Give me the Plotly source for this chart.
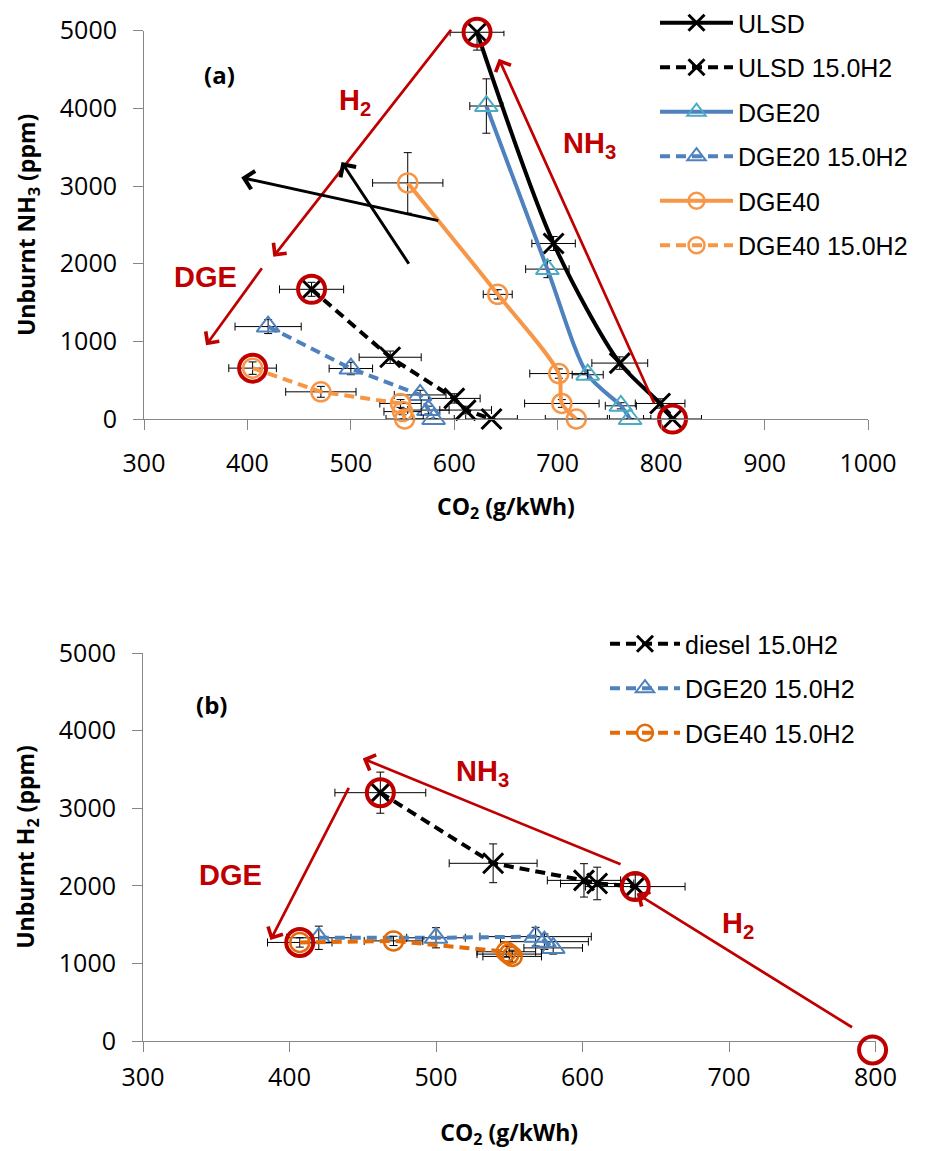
import plotly.graph_objects as go

# ---------------- data: panel (a) ----------------
ulsd_x = [622, 696, 760, 799, 811]
ulsd_y = [4980, 2260, 720, 200, 0]
ulsd_ex = [26, 21, 27, 24, 28]
ulsd_ey = [230, 90, 80, 60, 0]

ulsd_h2_x = [462, 538, 600, 611, 636]
ulsd_h2_y = [1670, 795, 265, 115, 0]
ulsd_h2_ex = [31, 30, 25, 25, 25]
ulsd_h2_ey = [90, 80, 60, 50, 0]

dge20_x = [631, 690, 729, 761, 770]
dge20_y = [4030, 1930, 570, 170, 0]
dge20_ex = [16, 21, 15, 15, 20]
dge20_ey = [350, 110, 60, 40, 0]

dge20_h2_x = [420, 500, 567, 575, 580]
dge20_h2_y = [1190, 650, 310, 115, 0]
dge20_h2_ex = [32, 21, 25, 20, 20]
dge20_h2_ey = [90, 80, 60, 50, 0]

dge40_x = [555, 642, 701, 704, 718]
dge40_y = [3040, 1605, 585, 200, 0]
dge40_ex = [34, 14, 28, 36, 30]
dge40_ey = [390, 60, 60, 50, 0]

dge40_h2_x = [405, 471, 548, 550, 552]
dge40_h2_y = [655, 350, 200, 95, 0]
dge40_h2_ex = [23, 34, 20, 18, 18]
dge40_h2_ey = [80, 70, 50, 40, 0]

ring_a_x = [622, 462, 405, 811]
ring_a_y = [4980, 1670, 655, 0]

# ---------------- data: panel (b) ----------------
diesel_b_x = [462, 539, 601, 610, 636]
diesel_b_y = [3200, 2290, 2070, 2030, 1990]
diesel_b_ex = [31, 30, 25, 25, 34]
diesel_b_ey = [265, 250, 215, 210, 150]

dge20_b_x = [420, 500, 568, 574, 580]
dge20_b_y = [1330, 1330, 1345, 1280, 1200]
dge20_b_ex = [22, 20, 38, 30, 20]
dge20_b_ey = [150, 130, 120, 100, 80]

dge40_b_x = [407, 471, 548, 550, 552]
dge40_b_y = [1270, 1290, 1150, 1120, 1090]
dge40_b_ex = [22, 20, 20, 22, 20]
dge40_b_ey = [60, 60, 70, 100, 80]

ring_b_x = [462, 407, 636, 798]
ring_b_y = [3200, 1270, 1990, -115]

# arrows: (tail_x, tail_y, head_x, head_y, colour)
arrows_a = [
    (598, 5030, 425, 2090, "#C00000"),
    (415, 1960, 360, 950, "#C00000"),
    (794, 180, 643, 4640, "#C00000"),
    (586, 2550, 394, 3110, "black"),
    (557, 1980, 491, 3310, "black"),
]
arrows_b = [
    (441, 3280, 387, 1300, "#C00000"),
    (627, 2270, 450, 3640, "#C00000"),
    (785, 165, 637, 1900, "#C00000"),
]
# labels: (x, y, text, colour)
labels_a = [
    (373, 4440, "<b>(a)</b>", "black"),
    (504, 4084, "<b>H<sub>2</sub></b>", "#C00000"),
    (731, 3526, "<b>NH<sub>3</sub></b>", "#C00000"),
    (359, 1828, "<b>DGE</b>", "#C00000"),
]
labels_b = [
    (347, 4330, "<b>(b)</b>", "black"),
    (532, 3450, "<b>NH<sub>3</sub></b>", "#C00000"),
    (360, 2139, "<b>DGE</b>", "#C00000"),
    (706, 1495, "<b>H<sub>2</sub></b>", "#C00000"),
]

# page is shown with an 8px body margin
OFF = 8
FW, FH = 925 - OFF, 1151 - OFF


def dx(p):
    return (p - OFF) / FW


def dy(p):
    return 1 - (p - OFF) / FH


fig = go.Figure()

DASH = "10px,6px"


def series(x, y, ex, ey, name, lcol, mcol, symbol, dash, xa, ya, leg, spline, msize=20, mw=2.5):
    fig.add_trace(go.Scatter(
        x=x, y=y, name=name, mode="lines+markers",
        xaxis=xa, yaxis=ya, legend=leg, legendgroup=name + leg,
        line=dict(color=lcol, width=4, dash=dash,
                  shape="spline" if spline else "linear", smoothing=0.8),
        marker=dict(symbol=symbol, size=msize, color=mcol,
                    line=dict(color=mcol, width=mw)),
        error_x=dict(type="data", array=ex, color="black", thickness=1, width=4),
        error_y=dict(type="data", array=ey, color="black", thickness=1, width=4),
        cliponaxis=False,
    ))


BLUE = "#4F81BD"
TEAL = "#4BACC6"
ORANGE = "#F79646"
DORANGE = "#E36C09"

series(ulsd_x, ulsd_y, ulsd_ex, ulsd_ey, "ULSD", "black", "black", "x-thin-open", "solid", "x", "y", "legend", True, 20, 3)
series(ulsd_h2_x, ulsd_h2_y, ulsd_h2_ex, ulsd_h2_ey, "ULSD 15.0H2", "black", "black", "x-thin-open", DASH, "x", "y", "legend", False, 20, 3)
series(dge20_x, dge20_y, dge20_ex, dge20_ey, "DGE20", BLUE, TEAL, "triangle-up-open", "solid", "x", "y", "legend", True, 20, 2)
series(dge20_h2_x, dge20_h2_y, dge20_h2_ex, dge20_h2_ey, "DGE20 15.0H2", BLUE, BLUE, "triangle-up-open", DASH, "x", "y", "legend", False, 20, 2)
series(dge40_x, dge40_y, dge40_ex, dge40_ey, "DGE40", ORANGE, ORANGE, "circle-open", "solid", "x", "y", "legend", True, 19, 2.5)
series(dge40_h2_x, dge40_h2_y, dge40_h2_ex, dge40_h2_ey, "DGE40 15.0H2", ORANGE, ORANGE, "circle-open", DASH, "x", "y", "legend", False, 19, 2.5)

series(diesel_b_x, diesel_b_y, diesel_b_ex, diesel_b_ey, "diesel 15.0H2", "black", "black", "x-thin-open", DASH, "x2", "y2", "legend2", False, 20, 3)
series(dge20_b_x, dge20_b_y, dge20_b_ex, dge20_b_ey, "DGE20 15.0H2", BLUE, BLUE, "triangle-up-open", DASH, "x2", "y2", "legend2", False, 20, 2)
series(dge40_b_x, dge40_b_y, dge40_b_ex, dge40_b_ey, "DGE40 15.0H2", DORANGE, DORANGE, "circle-open", DASH, "x2", "y2", "legend2", False, 19, 2.5)

# red rings; panel (b) rings use a hidden y-axis with the same scale but a little
# extra room below zero so the ring just under the axis is not dropped
for rx, ry, xa, ya in [(ring_a_x, ring_a_y, "x", "y"), (ring_b_x, ring_b_y, "x2", "y3")]:
    fig.add_trace(go.Scatter(
        x=rx, y=ry, mode="markers", xaxis=xa, yaxis=ya, showlegend=False,
        marker=dict(symbol="circle-open", size=27, color="#C00000",
                    line=dict(color="#C00000", width=4)),
        cliponaxis=False, hoverinfo="skip",
    ))

ann = []
for arrs, xr, yr in [(arrows_a, "x", "y"), (arrows_b, "x2", "y2")]:
    for tx, ty, hx, hy, col in arrs:
        ann.append(dict(x=hx, y=hy, ax=tx, ay=ty, xref=xr, yref=yr, axref=xr, ayref=yr,
                        text="", showarrow=True, arrowhead=4, arrowsize=1.2,
                        arrowwidth=2.7 if col != "black" else 3, arrowcolor=col,
                        standoff=0, startstandoff=0))
for labs, xr, yr in [(labels_a, "x", "y"), (labels_b, "x2", "y2")]:
    for lx, ly, t, col in labs:
        if col == "black":
            f = dict(family="Open Sans", size=24, color=col)
        else:
            f = dict(family="Liberation Sans", size=29, color=col)
        ann.append(dict(x=lx, y=ly, xref=xr, yref=yr, text=t, showarrow=False, font=f))

axis_common = dict(showline=True, linecolor="#868686", linewidth=1, ticks="outside",
                   ticklen=10, tickcolor="#868686", showgrid=False, zeroline=False,
                   automargin=False,
                   tickfont=dict(family="Open Sans", size=25, color="black"))
ytitle_font = dict(family="Open Sans", size=23, color="black")

ext_px = 20
y2_top, y2_bot = 653, 1041
y3_min = -ext_px * 5000 / (y2_bot - y2_top)

fig.update_layout(
    width=FW, height=FH, margin=dict(l=0, r=0, t=0, b=0, autoexpand=False),
    paper_bgcolor="white", plot_bgcolor="rgba(0,0,0,0)",
    annotations=ann,
    xaxis=dict(domain=[dx(144), dx(868)], anchor="y", range=[300, 1000], dtick=100,
               title=dict(text="<b>CO<sub>2</sub> (g/kWh)</b>", font=ytitle_font, standoff=20),
               ticklabelstandoff=12, **axis_common),
    yaxis=dict(domain=[dy(419), dy(30.7)], anchor="x", range=[0, 5000], dtick=1000,
               title=dict(text="<b>Unburnt NH<sub>3</sub> (ppm)</b>", font=ytitle_font, standoff=17),
               ticklabelstandoff=11, **axis_common),
    xaxis2=dict(domain=[dx(143), dx(875.5)], anchor="y2", range=[300, 800], dtick=100,
                title=dict(text="<b>CO<sub>2</sub> (g/kWh)</b>", font=ytitle_font, standoff=32),
                ticklabelstandoff=4, **axis_common),
    yaxis2=dict(domain=[dy(y2_bot), dy(y2_top)], anchor="x2", range=[0, 5000], dtick=1000,
                title=dict(text="<b>Unburnt H<sub>2</sub> (ppm)</b>", font=ytitle_font, standoff=17),
                ticklabelstandoff=11, **axis_common),
    yaxis3=dict(domain=[dy(y2_bot + ext_px), dy(y2_top)], anchor="x2", range=[y3_min, 5000],
                visible=False, showgrid=False, zeroline=False, automargin=False),
    legend=dict(x=dx(655), y=dy(0), xanchor="left", yanchor="top",
                font=dict(family="Liberation Sans", size=25, color="black"),
                itemwidth=73, tracegroupgap=9, bgcolor="rgba(0,0,0,0)"),
    legend2=dict(x=dx(605), y=dy(621), xanchor="left", yanchor="top",
                 font=dict(family="Liberation Sans", size=25, color="black"),
                 itemwidth=70, tracegroupgap=9, bgcolor="rgba(0,0,0,0)"),
)

fig.write_html("out.html")
